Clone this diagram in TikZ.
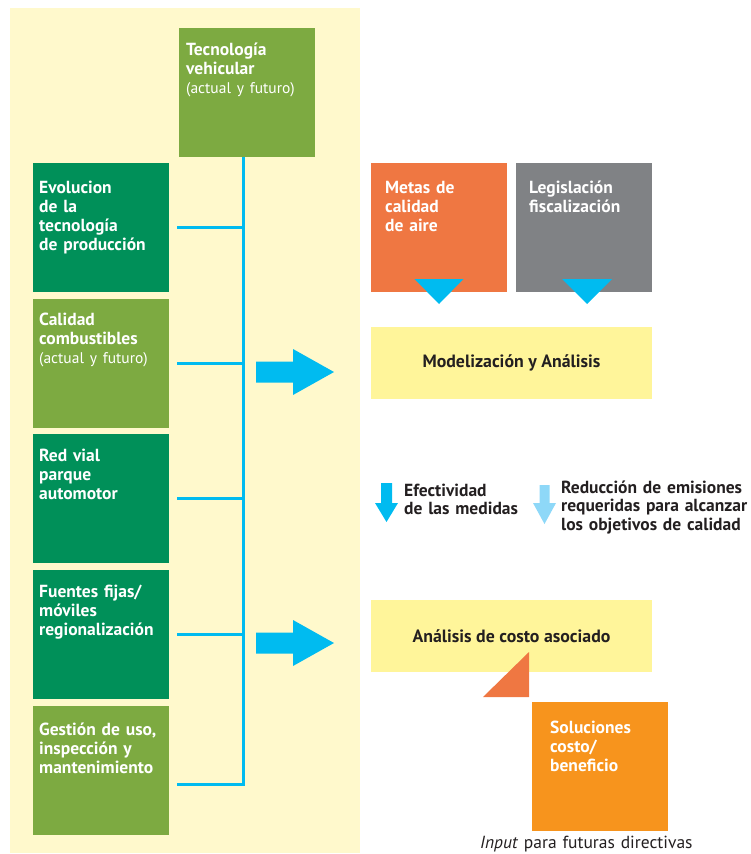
\documentclass[tikz,border=0pt]{standalone}
\usepackage{fontspec}
\setmainfont{PT Sans}
\usetikzlibrary{positioning}

\definecolor{panel}{HTML}{FFF9CC}
\definecolor{darkgreen}{HTML}{009059}
\definecolor{lightgreen}{HTML}{7DAA41}
\definecolor{skyblue}{HTML}{00BBF0}
\definecolor{paleblue}{HTML}{8ED8F8}
\definecolor{brick}{HTML}{EF7742}
\definecolor{slate}{HTML}{808285}
\definecolor{lemon}{HTML}{FFF59A}
\definecolor{tangerine}{HTML}{F7941D}
\definecolor{ink}{HTML}{231F20}

\newcommand\thinline[1]{{\fontsize{15.5}{19}\selectfont\mdseries #1}}

\begin{document}
\begin{tikzpicture}[x=1pt,y=-1pt,
  box/.style={minimum width=136pt, minimum height=129pt, inner sep=0pt, outer sep=0pt},
  widebox/.style={fill=lemon, minimum width=281pt, minimum height=72pt, inner sep=0pt, outer sep=0pt,
    text=ink, font=\fontsize{17.8}{19}\selectfont\bfseries},
  boxtext/.style={anchor=base west, inner sep=0pt, text=white, text width=128pt, align=left,
    font=\fontsize{17.5}{19}\selectfont\bfseries},
  note/.style={anchor=base west, inner sep=0pt, text=ink, text width=200pt, align=left,
    font=\fontsize{17.5}{18.5}\selectfont\bfseries},
  link/.style={skyblue, line width=3pt, line join=miter}]
\useasboundingbox (0,0) rectangle (751,854);
% Background
\fill[panel] (10,8) rectangle (360,853);
% Boxes
\node[box, fill=lightgreen] (tech) at (247,92.5) {};
\node[box, fill=darkgreen] (evol) at (101,227.5) {};
\node[box, fill=lightgreen] (fuel) at (101,363.5) {};
\node[box, fill=darkgreen] (road) at (101,498.5) {};
\node[box, fill=darkgreen] (source) at (101,634.5) {};
\node[box, fill=lightgreen] (manage) at (101,770.5) {};
\node[box, fill=brick] (goals) at (439,227.5) {};
\node[box, fill=slate] (law) at (584,227.5) {};
\node[widebox] (model) at (511.5,363) {Modelización y Análisis};
\node[widebox] (cost) at (511.5,636) {Análisis de costo asociado};
\node[box, fill=tangerine] (solution) at (600,766.5) {};
% Box texts
\node[boxtext] (tech text) at (186,55) {Tecnología\\vehicular\\\thinline{(actual y futuro)}};
\node[boxtext] (evol text) at (39,193) {Evolucion\\de la\\tecnología\\de producción};
\node[boxtext] (fuel text) at (39,325) {Calidad\\combustibles\\\thinline{(actual y futuro)}};
\node[boxtext] (road text) at (39,461) {Red vial\\parque\\automotor};
\node[boxtext] (source text) at (39,597) {Fuentes fijas/\\móviles\\regionalización};
\node[boxtext] (manage text) at (39,735) {Gestión de uso,\\inspección y\\mantenimiento};
\node[boxtext] (goals text) at (385,193) {Metas de\\calidad\\de aire};
\node[boxtext] (law text) at (529,193) {Legislación\\fiscalización};
\node[boxtext] (solution text) at (550,733) {Soluciones\\costo/\\beneficio};
% Notes
\node[note, text width=125pt] (effect) at (404,496) {Efectividad\\de las medidas};
\node[note] (reduce) at (561,493) {Reducción de emisiones\\requeridas para alcanzar\\los objetivos de calidad};
\node[note, font=\fontsize{17.5}{18}\selectfont, text width=240pt] (input) at (480,848) {\textit{Input} para futuras directivas};
% Lines
\coordinate (trunk top) at (243,157);
\coordinate (trunk bottom) at (243,784);
\draw[link] (trunk top) -- (trunk bottom) -- ([xshift=8pt]manage.east |- trunk bottom);
\foreach \b in {evol,fuel,road,source}
  \draw[link] ([xshift=8pt]\b.east) -- (\b.east -| trunk top);
% Arrows
\foreach \y in {372,643}
  \fill[skyblue] (256,\y-10.5) -- (293,\y-10.5) -- (293,\y-23) -- (334,\y) -- (293,\y+23)
    -- (293,\y+10.5) -- (256,\y+10.5) -- cycle;
\fill[skyblue] ([shift={(-24.5,-13)}]goals.south) -- ([shift={(24.5,-13)}]goals.south)
  -- ([yshift=-12pt]goals.south) -- cycle;
\fill[skyblue] ([shift={(-22,-13)}]law.south) -- ([shift={(28,-13)}]law.south)
  -- ([shift={(3,12)}]law.south) -- cycle;
\fill[skyblue] (381,483) -- (392,483) -- (392,503) -- (398,503) -- (386.5,522) -- (375,503)
  -- (381,503) -- cycle;
\fill[paleblue] (539.5,485) -- (549.5,485) -- (549.5,503) -- (556,503) -- (544.5,524) -- (533,503)
  -- (539.5,503) -- cycle;
\fill[brick] ([shift={(-3,-50)}]solution.north west) -- ([shift={(-3,-5)}]solution.north west)
  -- ([shift={(-49,-5)}]solution.north west) -- cycle;
\end{tikzpicture}
\end{document}
